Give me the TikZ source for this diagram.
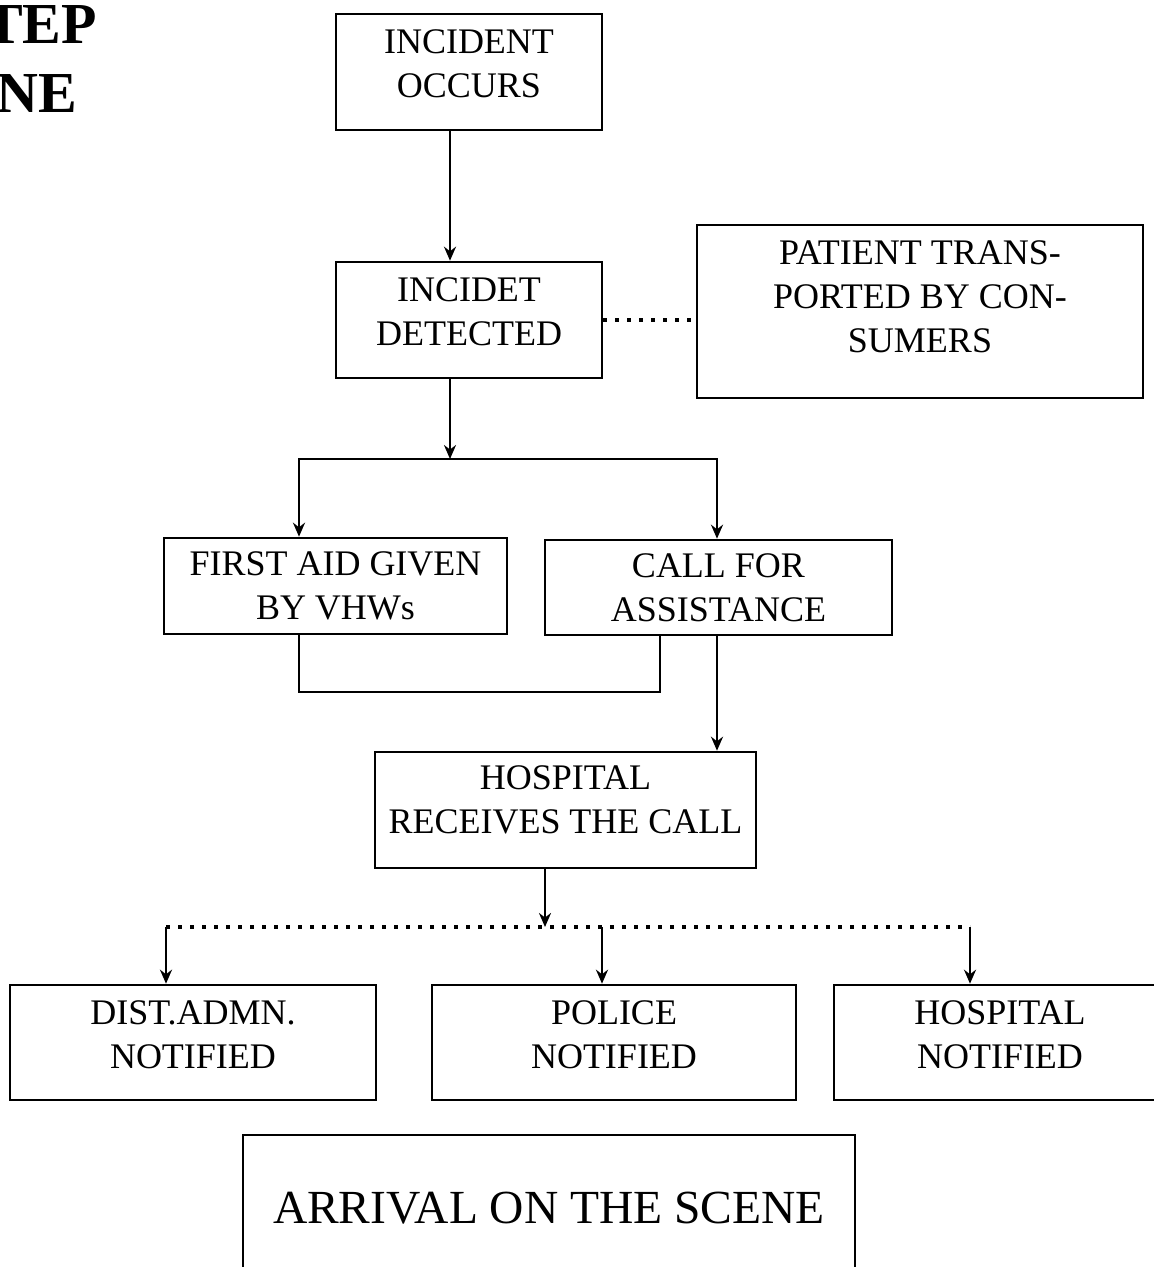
\documentclass[tikz,border=0pt]{standalone}
\usepackage{fontspec}
\setmainfont{Liberation Serif}
\usetikzlibrary{arrows.meta}
\begin{document}
\begin{tikzpicture}[x=1pt,y=-1pt,
  box/.style={draw, line width=2.6pt, inner sep=0pt, align=center, font=\fontsize{36}{44}\selectfont},
  arr/.style={line width=2.6pt, -{Stealth[length=14pt,width=12pt]}},
  ln/.style={line width=2.6pt},
  dotln/.style={line width=3.6pt, dash pattern=on 3.6pt off 8.4pt},
  big/.style={font=\fontsize{58}{58}\bfseries\selectfont, inner sep=0pt, anchor=base west}]
\useasboundingbox (0,0) rectangle (1154,1267);
\clip (0,0) rectangle (1154,1267);
\fill[white] (0,0) rectangle (1154,1267);

\node[big] (t1) at (-16,43) {TEP};
\node[big] (t2) at (-4,112) {NE};

\node[box, minimum width=266pt, minimum height=116pt, text depth=16pt] (b1) at (469,72) {INCIDENT\\OCCURS};
\node[box, minimum width=266pt, minimum height=116pt, text depth=16pt] (b2) at (469,320) {INCIDET\\DETECTED};
\node[box, minimum width=446pt, minimum height=173pt, text depth=30pt] (b3) at (920,311.5) {PATIENT TRANS-\\PORTED BY CON-\\SUMERS};
\node[box, minimum width=343pt, minimum height=96pt] (b4) at (335.5,586) {FIRST AID GIVEN\\BY VHWs};
\node[box, minimum width=347pt, minimum height=95pt] (b5) at (718.5,587.5) {CALL FOR\\ASSISTANCE};
\node[box, minimum width=381pt, minimum height=116pt, text depth=20pt] (b6) at (565.5,810) {HOSPITAL\\RECEIVES THE CALL};
\node[box, minimum width=366pt, minimum height=115pt, text depth=15pt] (b7) at (193,1042.5) {DIST.ADMN.\\NOTIFIED};
\node[box, minimum width=364pt, minimum height=115pt, text depth=15pt] (b8) at (614,1042.5) {POLICE\\NOTIFIED};
\node[box, minimum width=332pt, minimum height=115pt, text depth=15pt] (b9) at (1000,1042.5) {HOSPITAL\\NOTIFIED};
\node[box, font=\fontsize{47.5}{57}\selectfont, minimum width=612pt, minimum height=146pt] (b10) at (549,1208) {ARRIVAL ON THE SCENE};

% connectors
\draw[arr] (450,0 |- b1.south) -- (450,0 |- b2.north);
\draw[dotln] (b2.east) -- (b2.east -| b3.west);

\coordinate (s1) at (450,459);
\coordinate (s1l) at (299,459);
\coordinate (s1r) at (717,459);
\draw[arr] (450,0 |- b2.south) -- (s1);
\draw[ln, line cap=rect] (s1l) -- (s1r);
\draw[arr] (s1l) -- (s1l |- b4.north);
\draw[arr] (s1r) -- (s1r |- b5.north);

\draw[ln, line join=miter] (299,0 |- b4.south) -- (299,692) -- (660,692) -- (660,0 |- b5.south);
\draw[arr] (717,0 |- b5.south) -- (717,0 |- b6.north);

\coordinate (s2) at (545,927);
\coordinate (s2l) at (166,927);
\coordinate (s2m) at (602,927);
\coordinate (s2r) at (970,927);
\draw[dotln] (s2l) -- (s2r);
\draw[arr] (545,0 |- b6.south) -- (s2);
\draw[arr] (s2l) -- (s2l |- b7.north);
\draw[arr] (s2m) -- (s2m |- b8.north);
\draw[arr] (s2r) -- (s2r |- b9.north);
\end{tikzpicture}
\end{document}
